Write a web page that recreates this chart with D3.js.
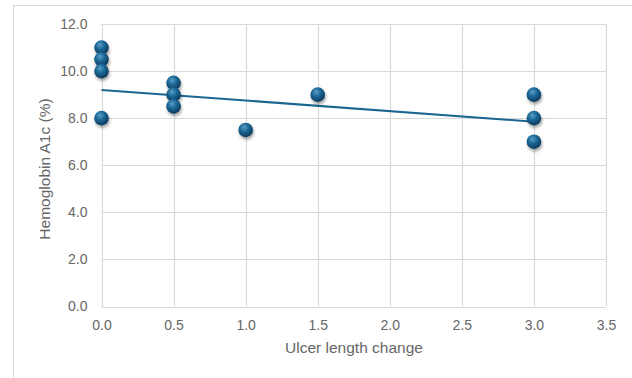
<!DOCTYPE html>
<html>
<head>
<meta charset="utf-8">
<script src="https://cdn.jsdelivr.net/npm/d3@7"></script>
<style>
  html, body { margin: 0; padding: 0; background: #fff; }
  svg { display: block; }
  text { font-family: "Liberation Sans", Arial, sans-serif; }
</style>
</head>
<body>
<svg id="chart" width="632" height="378"></svg>
<script>
// Data
const ulcerChange = [0, 0, 0, 0, 0.5, 0.5, 0.5, 1.0, 1.5, 3.0, 3.0, 3.0];
const hba1c       = [11.0, 10.5, 10.0, 8.0, 9.5, 9.0, 8.5, 7.5, 9.0, 9.0, 8.0, 7.0];
// Linear trendline endpoints
const trendX = [0, 3.0];
const trendY = [9.2, 7.85];
const xTicks = [0, 0.5, 1.0, 1.5, 2.0, 2.5, 3.0, 3.5];
const yTicks = [0, 2, 4, 6, 8, 10, 12];
const xTitle = "Ulcer length change";
const yTitle = "Hemoglobin A1c (%)";

const svg = d3.select("#chart");
const W = 632, H = 378;

// outer chart frame
svg.append("rect")
  .attr("x", 13.5).attr("y", 5.5)
  .attr("width", W + 10).attr("height", H + 10)
  .attr("fill", "#fff").attr("stroke", "#d9d9d9").attr("stroke-width", 1);

const x = d3.scaleLinear().domain([0, 3.5]).range([101.5, 606]);
const y = d3.scaleLinear().domain([0, 12]).range([306.5, 24]);

const defs = svg.append("defs");
const grad = defs.append("radialGradient").attr("id", "ball")
  .attr("cx", "40%").attr("cy", "32%").attr("r", "65%");
grad.append("stop").attr("offset", "0%").attr("stop-color", "#5a9dc8");
grad.append("stop").attr("offset", "45%").attr("stop-color", "#1d6a99");
grad.append("stop").attr("offset", "100%").attr("stop-color", "#0b3d60");
const filt = defs.append("filter").attr("id", "shadow")
  .attr("x", "-50%").attr("y", "-50%").attr("width", "200%").attr("height", "200%");
filt.append("feGaussianBlur").attr("stdDeviation", 1.6);

// gridlines
const grid = svg.append("g");
grid.selectAll(".gx").data(xTicks).join("line")
  .attr("x1", d => Math.round(x(d)) + 0.5).attr("x2", d => Math.round(x(d)) + 0.5)
  .attr("y1", y(12)).attr("y2", y(0))
  .attr("stroke", "#d9d9d9").attr("stroke-width", 1.2);
grid.selectAll(".gy").data(yTicks).join("line")
  .attr("y1", d => Math.round(y(d)) + 0.5).attr("y2", d => Math.round(y(d)) + 0.5)
  .attr("x1", x(0)).attr("x2", x(3.5))
  .attr("stroke", "#d9d9d9").attr("stroke-width", 1.2);

// axes (labels only) via d3 axes
const xAxis = svg.append("g").attr("transform", `translate(0,${y(0)})`)
  .call(d3.axisBottom(x).tickValues(xTicks).tickFormat(d3.format(".1f")).tickSize(0).tickPadding(14));
const yAxis = svg.append("g").attr("transform", `translate(${x(0)},0)`)
  .call(d3.axisLeft(y).tickValues(yTicks).tickFormat(d3.format(".1f")).tickSize(0).tickPadding(14));
[xAxis, yAxis].forEach(a => {
  a.select(".domain").remove();
  a.selectAll("text").attr("fill", "#666").style("font-size", "14px")
    .style("font-family", "'Liberation Sans', Arial, sans-serif");
});

// axis titles
svg.append("text").attr("x", 354).attr("y", 353)
  .attr("text-anchor", "middle").attr("fill", "#666").style("font-size", "15.5px")
  .text(xTitle);
svg.append("text")
  .attr("transform", `translate(49.5,169) rotate(-90)`)
  .attr("text-anchor", "middle").attr("fill", "#666").style("font-size", "15.5px")
  .text(yTitle);

// trendline
svg.append("line")
  .attr("x1", x(trendX[0])).attr("y1", y(trendY[0]))
  .attr("x2", x(trendX[1])).attr("y2", y(trendY[1]))
  .attr("stroke", "#1a6591").attr("stroke-width", 2);

// points
const pts = ulcerChange.map((v, i) => ({ x: v, y: hba1c[i] }));
svg.append("g").selectAll("circle").data(pts).join("circle")
  .attr("cx", d => x(d.x) + 1).attr("cy", d => y(d.y) + 2.5).attr("r", 7.3)
  .attr("fill", "rgba(0,0,0,0.35)").attr("filter", "url(#shadow)");
svg.append("g").selectAll("circle").data(pts).join("circle")
  .attr("cx", d => x(d.x)).attr("cy", d => y(d.y)).attr("r", 7.3)
  .attr("fill", "url(#ball)");
</script>
</body>
</html>
